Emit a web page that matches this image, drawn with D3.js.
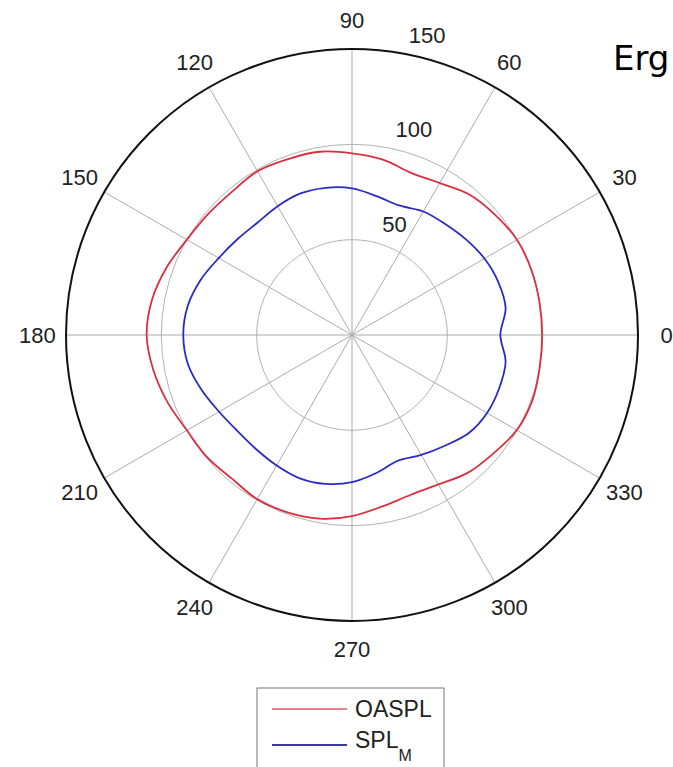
<!DOCTYPE html>
<html>
<head>
<meta charset="utf-8">
<script src="https://cdn.jsdelivr.net/npm/d3@7"></script>
<style>
  html, body { margin: 0; padding: 0; background: #fff; overflow: hidden; }
  svg { display: block; }
</style>
</head>
<body>
<script>
// Directivity angles (degrees, counter-clockwise from the right-hand axis)
const angles = [0, 10, 20, 30, 40, 50, 60, 70, 80, 90, 100, 110, 120, 130, 140, 150, 160, 170,
                180, 190, 200, 210, 220, 230, 240, 250, 260, 270, 280, 290, 300, 310, 320, 330, 340, 350];

// Overall sound pressure level
const oaspl = [99.7, 99.8, 100.1, 99.9, 98.0, 96.0, 92.0, 90.5, 93.4, 95.3, 97.6, 98.2, 99.2, 98.0, 98.6, 100.0, 103.5, 106.5,
               107.7, 105.8, 103.0, 100.0, 99.4, 98.2, 99.4, 99.0, 97.8, 95.0, 91.3, 89.3, 90.5, 94.4, 96.7, 99.8, 100.6, 99.9];

// Sound pressure level SPL_M
const splM = [77.8, 81.8, 81.6, 80.2, 78.0, 76.0, 74.8, 72.3, 74.0, 76.9, 78.4, 79.0, 78.0, 77.0, 78.3, 80.7, 84.5, 87.5,
              88.5, 87.4, 84.0, 80.5, 78.4, 78.2, 79.0, 80.0, 79.3, 77.2, 73.5, 70.2, 72.6, 75.8, 80.0, 81.8, 82.1, 81.8];

const spokeAngles = [0, 30, 60, 90, 120, 150, 180, 210, 240, 270, 300, 330];
const ringValues = [50, 100, 150];
const rMax = 150;

const seriesNames = ["OASPL", "SPL"];
const seriesColors = ["#d8303e", "#2a2ac6"];

const W = 673, H = 767;
const cx = 352, cy = 335, R = 286;

const svg = d3.select("body").append("svg")
  .attr("width", W).attr("height", H)
  .style("font-family", "'Liberation Sans', Arial, sans-serif");

const r = d3.scaleLinear().domain([0, rMax]).range([0, R]);
const toRad = d => d * Math.PI / 180;

const g = svg.append("g").attr("transform", `translate(${cx},${cy})`);

// inner rings
g.selectAll("circle.ring").data(ringValues.slice(0, -1)).join("circle")
  .attr("class", "ring")
  .attr("r", d => r(d))
  .attr("fill", "none")
  .attr("stroke", "#b2b2b2")
  .attr("stroke-width", 1);

// spokes
g.selectAll("line.spoke").data(spokeAngles).join("line")
  .attr("class", "spoke")
  .attr("x1", 0).attr("y1", 0)
  .attr("x2", d => r(rMax) * Math.cos(toRad(d)))
  .attr("y2", d => -r(rMax) * Math.sin(toRad(d)))
  .attr("stroke", "#ababab")
  .attr("stroke-width", 1);

// outer boundary
g.append("circle")
  .attr("r", r(rMax))
  .attr("fill", "none")
  .attr("stroke", "#111")
  .attr("stroke-width", 2);

// data curves
const radial = d3.lineRadial()
  .angle(d => toRad(90 - d[0]))
  .radius(d => r(d[1]))
  .curve(d3.curveCatmullRomClosed);

[oaspl, splM].forEach((vals, i) => {
  g.append("path")
    .datum(angles.map((a, k) => [a, vals[k]]))
    .attr("d", radial)
    .attr("fill", "none")
    .attr("stroke", seriesColors[i])
    .attr("stroke-width", 1.8);
});

// angle labels
g.selectAll("text.ang").data(spokeAngles).join("text")
  .attr("class", "ang")
  .attr("x", d => r(rMax) * 1.1 * Math.cos(toRad(d)))
  .attr("y", d => -r(rMax) * 1.1 * Math.sin(toRad(d)))
  .attr("text-anchor", "middle")
  .attr("dominant-baseline", "central")
  .attr("font-size", 22)
  .attr("fill", "#222")
  .text(d => d);

// ring labels
g.selectAll("text.rl").data(ringValues).join("text")
  .attr("class", "rl")
  .attr("x", d => r(d) * Math.cos(toRad(82)) + 17)
  .attr("y", d => -r(d) * Math.sin(toRad(82)) - 9)
  .attr("font-size", 22)
  .attr("fill", "#222")
  .text(d => d);

// legend
const lg = svg.append("g");
lg.append("rect")
  .attr("x", 257).attr("y", 688)
  .attr("width", 187).attr("height", 90)
  .attr("fill", "#fff")
  .attr("stroke", "#777")
  .attr("stroke-width", 1);

const legendY = [709, 745];
const legendLine = ["#e5808e", "#3a3a9a"];
seriesNames.forEach((name, i) => {
  lg.append("line")
    .attr("x1", 272).attr("x2", 347)
    .attr("y1", legendY[i]).attr("y2", legendY[i])
    .attr("stroke", legendLine[i])
    .attr("stroke-width", 2);
});
lg.append("text")
  .attr("x", 355).attr("y", 717)
  .attr("font-size", 23).attr("fill", "#222")
  .text(seriesNames[0]);
const t2 = lg.append("text")
  .attr("x", 355).attr("y", 748)
  .attr("font-size", 23).attr("fill", "#222");
t2.append("tspan").text(seriesNames[1]);
t2.append("tspan").attr("font-size", 16).attr("dy", 13).text("M");

// heading fragment at the right edge
svg.append("text")
  .attr("x", 613).attr("y", 70)
  .attr("font-size", 34)
  .attr("font-family", "'DejaVu Sans', sans-serif")
  .attr("fill", "#000")
  .text("Erg");
</script>
</body>
</html>
